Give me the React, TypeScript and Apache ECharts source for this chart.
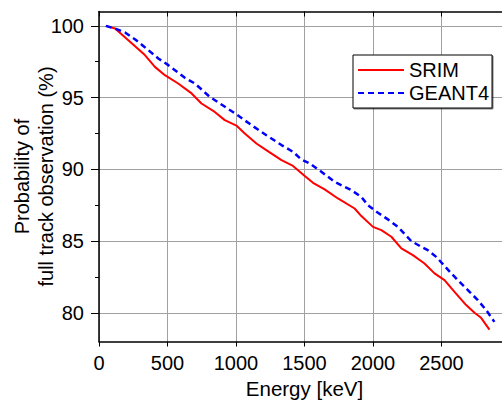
import React, { useEffect, useRef } from "react";
import * as echarts from "echarts";

const srimEnergy = [50, 117, 214, 335, 408, 481, 578, 676, 748, 845, 918, 1003, 1064, 1149, 1210, 1332, 1416, 1502, 1562, 1647, 1744, 1866, 1915, 2000, 2061, 2134, 2207, 2291, 2376, 2449, 2522, 2595, 2680, 2741, 2789, 2850];
const srimProb = [100, 99.82, 99.0, 97.96, 97.14, 96.56, 95.98, 95.29, 94.59, 94.0, 93.43, 93.05, 92.5, 91.8, 91.41, 90.64, 90.24, 89.53, 89.06, 88.6, 87.97, 87.27, 86.74, 85.99, 85.76, 85.3, 84.49, 84.02, 83.44, 82.75, 82.28, 81.46, 80.54, 80.0, 79.65, 78.83];

const geantEnergy = [50, 129, 190, 262, 323, 433, 506, 627, 700, 809, 882, 955, 1003, 1113, 1222, 1332, 1416, 1477, 1538, 1623, 1720, 1842, 1915, 1963, 2036, 2109, 2182, 2279, 2352, 2400, 2461, 2510, 2571, 2632, 2705, 2765, 2826, 2886];
const geantProb = [100, 99.77, 99.54, 99.07, 98.6, 97.73, 97.26, 96.38, 95.98, 95.05, 94.59, 94.13, 93.83, 93.08, 92.38, 91.69, 91.22, 90.69, 90.41, 89.83, 89.13, 88.55, 88.08, 87.5, 86.97, 86.51, 85.99, 85.0, 84.6, 84.37, 83.9, 83.4, 82.75, 82.16, 81.46, 80.89, 80.19, 79.37];

const xTickLabels = [0, 500, 1000, 1500, 2000, 2500];
const yMajorTicks = [80, 85, 90, 95, 100];
const yMinorTicks = [82.5, 87.5, 92.5, 97.5];

const FONT = "'Liberation Sans', Arial, Helvetica, sans-serif";

export default function App() {
  const ref = useRef<HTMLDivElement>(null);
  useEffect(() => {
    if (!ref.current) return;
    const chart = echarts.init(ref.current, undefined, { renderer: "svg" });
    const axisLine = { show: true, lineStyle: { color: "#000", width: 1.5 } };
    chart.setOption({
      animation: false,
      backgroundColor: "#fff",
      textStyle: { fontFamily: FONT },
      grid: {
        left: 99,
        top: 11.5,
        width: 411,
        height: 330,
        containLabel: false,
        outerBoundsMode: "none",
      },
      legend: {
        data: ["SRIM", "GEANT4"],
        orient: "vertical",
        left: 353,
        top: 55,
        padding: [5, 3, 5, 4],
        itemGap: 3,
        itemWidth: 46,
        itemHeight: 14,
        backgroundColor: "#fff",
        borderColor: "#000",
        borderWidth: 1,
        shadowColor: "rgba(0,0,0,0.5)",
        shadowOffsetX: 1,
        shadowOffsetY: 1,
        shadowBlur: 0,
        itemStyle: { opacity: 0 },
        textStyle: { fontSize: 20, color: "#000", fontFamily: FONT, lineHeight: 20 },
      },
      xAxis: [
        {
          type: "value",
          position: "bottom",
          min: 0,
          max: 3000,
          interval: 500,
          axisLine,
          axisTick: { show: true, inside: false, length: 5, lineStyle: { color: "#000", width: 1 } },
          axisLabel: {
            fontSize: 20,
            color: "#000",
            margin: 11,
            fontFamily: FONT,
            customValues: xTickLabels,
            formatter: (v: number) => String(v),
          },
          splitLine: { show: true, lineStyle: { color: "#a0a0a0", width: 1 } },
          name: "Energy [keV]",
          nameLocation: "middle",
          nameGap: 36,
          nameMoveOverlap: false,
          nameTextStyle: { fontSize: 20.5, color: "#000", fontFamily: FONT },
        },
        {
          type: "value",
          position: "top",
          min: 0,
          max: 3000,
          interval: 500,
          axisLine,
          axisTick: { show: true, inside: true, length: 5, lineStyle: { color: "#000", width: 1 } },
          axisLabel: { show: false },
          splitLine: { show: false },
        },
      ],
      yAxis: [
        {
          type: "value",
          position: "left",
          min: 78,
          max: 101,
          axisLine,
          axisTick: { show: true, inside: false, length: 8, customValues: yMajorTicks, lineStyle: { color: "#000", width: 1 } },
          axisLabel: { fontSize: 20, color: "#000", margin: 15, customValues: yMajorTicks, fontFamily: FONT },
          splitLine: { show: true, lineStyle: { color: "#a0a0a0", width: 1 } },
          name: "Probability of\nfull track observation (%)",
          nameLocation: "middle",
          nameRotate: 90,
          nameGap: 41,
          nameMoveOverlap: false,
          nameTextStyle: { fontSize: 20, color: "#000", fontFamily: FONT, lineHeight: 24 },
        },
        {
          type: "value",
          position: "left",
          min: 78,
          max: 101,
          axisLine: { show: false },
          axisTick: { show: true, inside: false, length: 4, customValues: yMinorTicks, lineStyle: { color: "#000", width: 1 } },
          axisLabel: { show: false },
          splitLine: { show: false },
        },
      ],
      series: [
        {
          name: "SRIM",
          type: "line",
          xAxisIndex: 0,
          yAxisIndex: 0,
          data: srimEnergy.map((e, i) => [e, srimProb[i]]),
          symbol: "none",
          showSymbol: false,
          lineStyle: { color: "#ff0000", width: 2 },
          itemStyle: { color: "#ff0000" },
        },
        {
          name: "GEANT4",
          type: "line",
          xAxisIndex: 0,
          yAxisIndex: 0,
          data: geantEnergy.map((e, i) => [e, geantProb[i]]),
          symbol: "none",
          showSymbol: false,
          lineStyle: { color: "#0000ff", width: 2.5, type: [6, 4] },
          itemStyle: { color: "#0000ff" },
        },
      ],
    });
    return () => chart.dispose();
  }, []);
  return <div ref={ref} style={{ width: 502, height: 401, position: "absolute", left: 0, top: 0 }} />;
}
